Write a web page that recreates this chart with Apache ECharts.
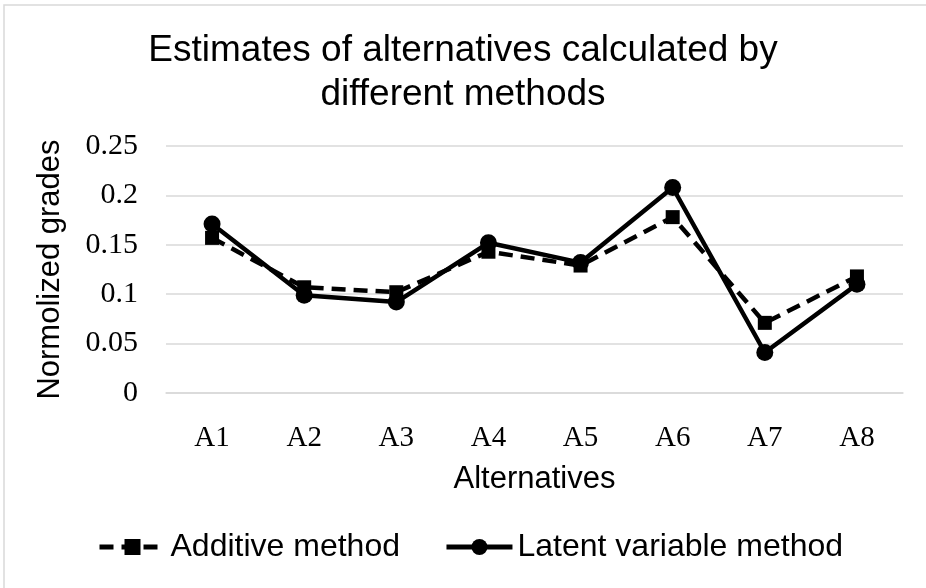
<!DOCTYPE html>
<html>
<head>
<meta charset="utf-8">
<script src="https://cdn.jsdelivr.net/npm/echarts@6/dist/echarts.min.js"></script>
<style>
  html, body { margin: 0; padding: 0; background: #fff; }
  #main { width: 926px; height: 588px; }
</style>
</head>
<body>
<div id="main"></div>
<script>
// data
var categories = ['A1', 'A2', 'A3', 'A4', 'A5', 'A6', 'A7', 'A8'];
var additive = [0.157, 0.107, 0.102, 0.143, 0.129, 0.178, 0.071, 0.118];
var latent = [0.171, 0.099, 0.092, 0.152, 0.132, 0.208, 0.041, 0.110];
var yTicks = [0, 0.05, 0.1, 0.15, 0.2, 0.25];

var sans = '"Liberation Sans", Arial, sans-serif';
var serif = '"Liberation Serif", "Times New Roman", serif';

var myChart = echarts.init(document.getElementById('main'));

var option = {
    animation: false,
    backgroundColor: '#fff',
    title: {
        text: 'Estimates of alternatives calculated by\ndifferent methods',
        left: 'center',
        top: 24,
        textStyle: {
            fontFamily: sans,
            fontSize: 37,
            fontWeight: 'normal',
            color: '#000',
            lineHeight: 44
        }
    },
    legend: {
        bottom: 20,
        left: 92,
        itemWidth: 66,
        itemHeight: 20,
        itemGap: 44,
        lineStyle: { width: 5 },
        textStyle: { fontFamily: sans, fontSize: 32, color: '#000' },
        data: ['Additive method', 'Latent variable method']
    },
    graphic: [{
        type: 'rect',
        shape: { x: 4, y: 5, width: 1000, height: 1000 },
        style: { fill: 'none', stroke: '#d9d9d9', lineWidth: 1.5 },
        silent: true
    }],
    grid: { left: 166, right: 23, top: 146, bottom: 195 },
    xAxis: {
        type: 'category',
        data: categories,
        name: 'Alternatives',
        nameLocation: 'middle',
        nameGap: 71,
        nameTextStyle: { fontFamily: sans, fontSize: 31, color: '#000' },
        axisLine: { show: true, lineStyle: { color: '#d9d9d9', width: 1.5 } },
        axisTick: { show: false },
        axisLabel: { fontFamily: serif, fontSize: 29, color: '#000', margin: 31 }
    },
    yAxis: {
        type: 'value',
        min: 0,
        max: 0.25,
        interval: 0.05,
        name: 'Normolized grades',
        nameLocation: 'middle',
        nameGap: 100,
        nameTextStyle: { fontFamily: sans, fontSize: 31, color: '#000' },
        axisLine: { show: false },
        axisTick: { show: false },
        splitLine: { lineStyle: { color: '#d9d9d9', width: 1.5 } },
        axisLabel: {
            fontFamily: serif, fontSize: 30, color: '#000', margin: 28,
            formatter: function (v) {
                for (var i = 0; i < yTicks.length; i++) {
                    if (Math.abs(yTicks[i] - v) < 1e-9) return String(yTicks[i]);
                }
                return '';
            }
        }
    },
    series: [{
        name: 'Additive method',
        type: 'line',
        data: additive,
        symbol: 'rect',
        symbolSize: 14,
        itemStyle: { color: '#000' },
        lineStyle: { color: '#000', width: 4.5, type: [14, 8] }
    }, {
        name: 'Latent variable method',
        type: 'line',
        data: latent,
        symbol: 'circle',
        symbolSize: 17,
        itemStyle: { color: '#000' },
        lineStyle: { color: '#000', width: 4.5 }
    }]
};

myChart.setOption(option);
</script>
</body>
</html>
